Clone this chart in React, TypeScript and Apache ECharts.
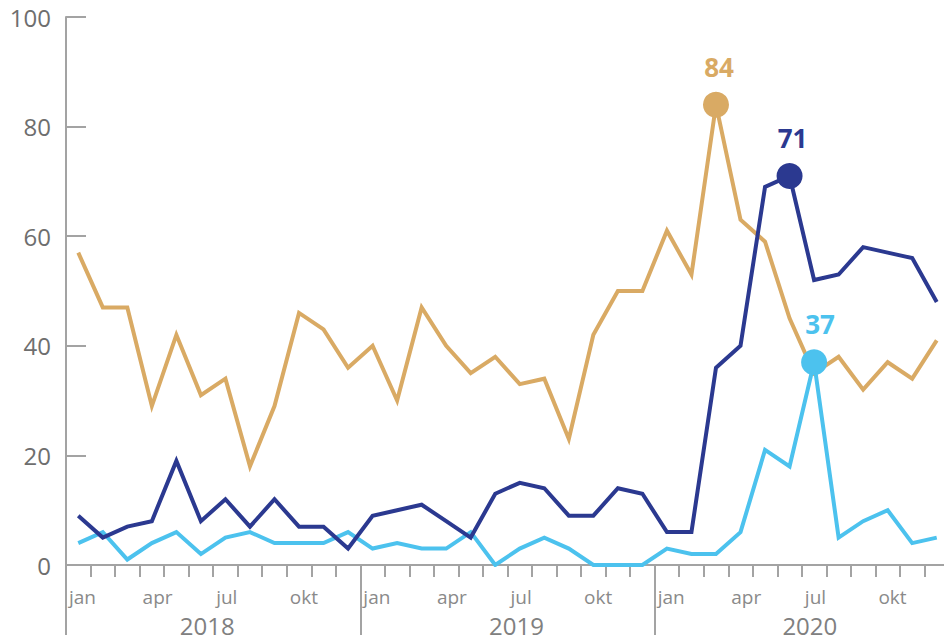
import React, { useEffect, useRef } from "react";
import * as echarts from "echarts";

const monthNames = ["jan", "feb", "mar", "apr", "maj", "jun", "jul", "aug", "sep", "okt", "nov", "dec"];
const shownMonths = ["jan", "apr", "jul", "okt"];
const years = ["2018", "2019", "2020"];
const yTicks = [0, 20, 40, 60, 80, 100];

const seriesTan = [57, 47, 47, 29, 42, 31, 34, 18, 29, 46, 43, 36, 40, 30, 47, 40, 35, 38, 33, 34, 23, 42, 50, 50, 61, 53, 84, 63, 59, 45, 35, 38, 32, 37, 34, 41];
const seriesNavy = [9, 5, 7, 8, 19, 8, 12, 7, 12, 7, 7, 3, 9, 10, 11, 8, 5, 13, 15, 14, 9, 9, 14, 13, 6, 6, 36, 40, 69, 71, 52, 53, 58, 57, 56, 48];
const seriesLight = [4, 6, 1, 4, 6, 2, 5, 6, 4, 4, 4, 6, 3, 4, 3, 3, 6, 0, 3, 5, 3, 0, 0, 0, 3, 2, 2, 6, 21, 18, 37, 5, 8, 10, 4, 5];

const peakTan = 26;
const peakNavy = 29;
const peakLight = 30;

const COLORS = { tan: "#D9AA64", navy: "#2B3990", light: "#4CC2EE" };
const FONT = "'Segoe UI', 'Open Sans', sans-serif";
const AXIS = "#A3A3A3";

const categories = years.flatMap((y) => monthNames.map((m) => `${m} ${y}`));
const boundaryLabels = [...categories.map((c, i) => {
  const m = monthNames[i % 12];
  return shownMonths.includes(m) ? m : "";
}), ""];

function makeData(values: number[], peak: number, color: string, offsetX: number) {
  return values.map((v, i) =>
    i === peak
      ? {
          value: v,
          symbol: "circle",
          symbolSize: 26,
          itemStyle: { color },
          label: {
            show: true,
            position: "top",
            distance: 12,
            offset: [offsetX, 0],
            color,
            fontFamily: FONT,
            fontSize: 26,
            fontWeight: "bold",
            formatter: "{c}",
          },
        }
      : v
  );
}

export default function App() {
  const ref = useRef<HTMLDivElement>(null);
  useEffect(() => {
    if (!ref.current) return;
    const chart = echarts.init(ref.current, null, { renderer: "svg" });
    const lineSeries = (name: string, values: number[], peak: number, color: string, ox: number) => ({
      type: "line",
      name,
      xAxisIndex: 0,
      yAxisIndex: 0,
      data: makeData(values, peak, color, ox),
      symbol: "none",
      lineStyle: { color, width: 4, join: "miter" },
      itemStyle: { color },
      silent: true,
    });
    chart.setOption({
      animation: false,
      backgroundColor: "#ffffff",
      grid: { left: 66, top: 17, right: 0, bottom: 76 },
      xAxis: [
        {
          type: "category",
          data: categories,
          boundaryGap: true,
          axisLine: { show: true, lineStyle: { color: AXIS, width: 2 } },
          axisTick: { show: true, interval: 0, length: 12, lineStyle: { color: AXIS, width: 2 } },
          axisLabel: { show: false },
          splitLine: { show: false },
        },
        {
          type: "category",
          data: years,
          position: "bottom",
          boundaryGap: true,
          axisLine: { show: false },
          axisTick: { show: true, interval: 0, length: 70, lineStyle: { color: AXIS, width: 2 } },
          axisLabel: {
            show: true,
            interval: 0,
            margin: 48,
            color: "#808080",
            fontFamily: FONT,
            fontSize: 24,
            formatter: (v: string, i: number) => `{y${i}|${v}}`,
            rich: {
              y0: { padding: [0, 12, 0, 0], color: "#808080", fontFamily: FONT, fontSize: 24 },
              y1: { padding: [0, 0, 0, 18], color: "#808080", fontFamily: FONT, fontSize: 24 },
              y2: { padding: [0, 0, 0, 16], color: "#808080", fontFamily: FONT, fontSize: 24 },
            },
          },
          splitLine: { show: false },
        },
        {
          type: "category",
          data: boundaryLabels,
          position: "bottom",
          boundaryGap: false,
          axisLine: { show: false },
          axisTick: { show: false },
          axisLabel: {
            show: true,
            interval: 0,
            margin: 22,
            align: "left",
            padding: [0, 0, 0, 3],
            color: "#8A8A8A",
            fontFamily: FONT,
            fontSize: 19,
          },
          splitLine: { show: false },
        },
      ],
      yAxis: {
        type: "value",
        min: yTicks[0],
        max: yTicks[yTicks.length - 1],
        interval: 20,
        axisLine: { show: true, lineStyle: { color: AXIS, width: 2 } },
        axisTick: { show: true, inside: true, length: 20, lineStyle: { color: AXIS, width: 2 } },
        axisLabel: { color: "#6E6E6E", fontFamily: FONT, fontSize: 24, margin: 15 },
        splitLine: { show: false },
      },
      series: [
        lineSeries("Serie A", seriesTan, peakTan, COLORS.tan, 3),
        lineSeries("Serie C", seriesLight, peakLight, COLORS.light, 6),
        lineSeries("Serie B", seriesNavy, peakNavy, COLORS.navy, 3),
      ],
    });
    return () => chart.dispose();
  }, []);
  return (
    <div style={{ position: "fixed", left: 0, top: 0, width: 944, height: 641, overflow: "hidden", background: "#fff" }}>
      <div ref={ref} style={{ width: 952, height: 641 }} />
    </div>
  );
}
